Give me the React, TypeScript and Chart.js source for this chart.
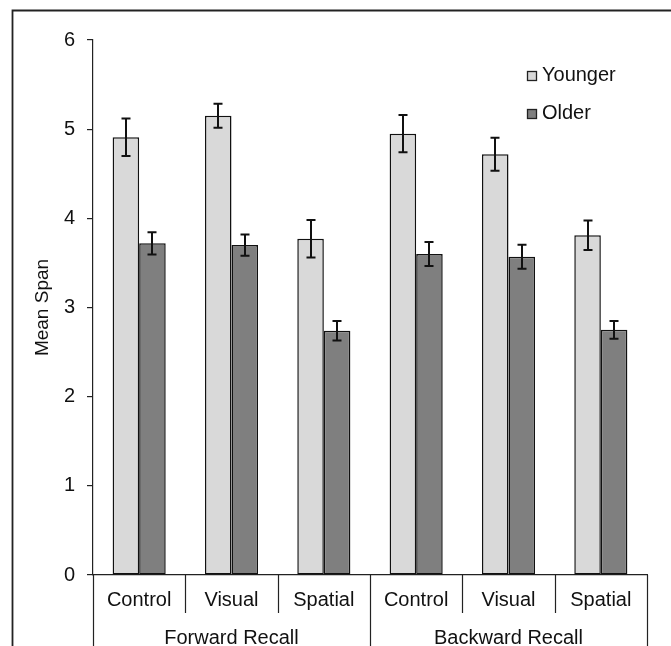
import React, { useEffect, useRef } from "react";
import { Chart, registerables } from "chart.js";

Chart.register(...registerables);

const categories = ["Control", "Visual", "Spatial", "Control", "Visual", "Spatial"];
const groups = ["Forward Recall", "Backward Recall"];
const groupSize = 3;
const seriesNames = ["Younger", "Older"];
const youngerValues = [4.91, 5.15, 3.77, 4.95, 4.72, 3.81];
const youngerErrors = [0.21, 0.135, 0.21, 0.21, 0.185, 0.165];
const olderValues = [3.72, 3.7, 2.74, 3.6, 3.57, 2.75];
const olderErrors = [0.125, 0.12, 0.11, 0.135, 0.135, 0.1];
const yTicks = [0, 1, 2, 3, 4, 5, 6];

const FONT = "'Liberation Sans', Arial, sans-serif";
const TEXT = "#111";
const COLORS = ["#d9d9d9", "#7f7f7f"];
const errorsBySeries = [youngerErrors, olderErrors];

const overlay = {
  id: "overlay",
  afterDraw(chart: any) {
    const ctx = chart.ctx as CanvasRenderingContext2D;
    const xs = chart.scales.x;
    const ys = chart.scales.y;
    const area = chart.chartArea;
    const W = chart.width;
    const H = chart.height;
    ctx.save();

    // outer frame (top and left)
    ctx.strokeStyle = "#222";
    ctx.lineWidth = 1.8;
    ctx.beginPath();
    ctx.moveTo(12.5, H);
    ctx.lineTo(12.5, 10.5);
    ctx.lineTo(W, 10.5);
    ctx.stroke();

    // error bars
    ctx.strokeStyle = "#111";
    ctx.lineWidth = 2;
    chart.data.datasets.forEach((ds: any, di: number) => {
      const meta = chart.getDatasetMeta(di);
      const errs = errorsBySeries[di];
      meta.data.forEach((el: any, i: number) => {
        const v = ds.data[i];
        const cx = Math.round(el.x);
        const t = ys.getPixelForValue(v + errs[i]);
        const b = ys.getPixelForValue(v - errs[i]);
        ctx.beginPath();
        ctx.moveTo(cx, t);
        ctx.lineTo(cx, b);
        ctx.moveTo(cx - 4.5, t);
        ctx.lineTo(cx + 4.5, t);
        ctx.moveTo(cx - 4.5, b);
        ctx.lineTo(cx + 4.5, b);
        ctx.stroke();
      });
    });

    // x-axis separators
    const n = categories.length;
    const step = (area.right - area.left) / n;
    ctx.strokeStyle = "#222";
    ctx.lineWidth = 1.2;
    for (let k = 0; k <= n; k++) {
      const sx = Math.round(area.left + k * step) + 0.5;
      const major = k % groupSize === 0;
      ctx.beginPath();
      ctx.moveTo(sx, area.bottom);
      ctx.lineTo(sx, major ? H : area.bottom + 38);
      ctx.stroke();
    }

    // category labels
    ctx.fillStyle = TEXT;
    ctx.font = `20px ${FONT}`;
    ctx.textAlign = "center";
    ctx.textBaseline = "middle";
    categories.forEach((c, i) => {
      ctx.fillText(c, xs.getPixelForValue(i), area.bottom + 25);
    });
    groups.forEach((g, gi) => {
      const l = area.left + gi * groupSize * step;
      const r = l + groupSize * step;
      ctx.fillText(g, (l + r) / 2, area.bottom + 63);
    });

    // y title
    ctx.save();
    ctx.translate(43, (area.top + area.bottom) / 2);
    ctx.rotate(-Math.PI / 2);
    ctx.font = `19px ${FONT}`;
    ctx.fillText("Mean Span", 0, 0);
    ctx.restore();

    // legend
    ctx.font = `20px ${FONT}`;
    ctx.textAlign = "left";
    seriesNames.forEach((name, i) => {
      const cy = 75 + i * 38;
      ctx.fillStyle = COLORS[i];
      ctx.fillRect(527, cy - 4, 9, 9);
      ctx.strokeStyle = "#222";
      ctx.lineWidth = 1.3;
      ctx.strokeRect(527.5, cy - 3.5, 9, 9);
      ctx.fillStyle = TEXT;
      ctx.fillText(name, 542, cy);
    });

    ctx.restore();
  },
};

export default function App() {
  const ref = useRef<HTMLCanvasElement>(null);
  useEffect(() => {
    if (!ref.current) return;
    const chart = new Chart(ref.current, {
      type: "bar",
      data: {
        labels: categories,
        datasets: [
          {
            label: seriesNames[0],
            data: youngerValues,
            backgroundColor: COLORS[0],
            borderColor: "#111",
            borderWidth: 1.5,
            borderSkipped: false,
          },
          {
            label: seriesNames[1],
            data: olderValues,
            backgroundColor: COLORS[1],
            borderColor: "#111",
            borderWidth: 1.5,
            borderSkipped: false,
          },
        ],
      },
      options: {
        animation: false,
        responsive: false,
        maintainAspectRatio: false,
        devicePixelRatio: 1,
        layout: { padding: { left: 0, right: 24, top: 40, bottom: 71 } },
        plugins: { legend: { display: false }, tooltip: { enabled: false } },
        datasets: { bar: { categoryPercentage: 0.575, barPercentage: 1 } },
        scales: {
          x: {
            ticks: { display: false },
            grid: { display: false },
            border: { display: true, color: "#222", width: 1.2 },
            afterFit: (s: any) => {
              s.height = 0;
            },
          },
          y: {
            min: 0,
            max: 6,
            afterBuildTicks: (s: any) => {
              s.ticks = yTicks.map((v) => ({ value: v }));
            },
            ticks: {
              color: TEXT,
              font: { family: FONT, size: 20 },
              padding: 12,
            },
            grid: { drawOnChartArea: false, drawTicks: true, tickLength: 6, color: "#222", lineWidth: 1.2 },
            border: { display: true, color: "#222", width: 1.2 },
            afterFit: (s: any) => {
              s.width = 93;
            },
          },
        },
      },
      plugins: [overlay],
    });
    return () => chart.destroy();
  }, []);
  return (
    <div style={{ position: "fixed", left: 0, top: 0, width: 671, height: 646, background: "#fff" }}>
      <canvas ref={ref} width={671} height={646} style={{ width: 671, height: 646, display: "block" }} />
    </div>
  );
}
